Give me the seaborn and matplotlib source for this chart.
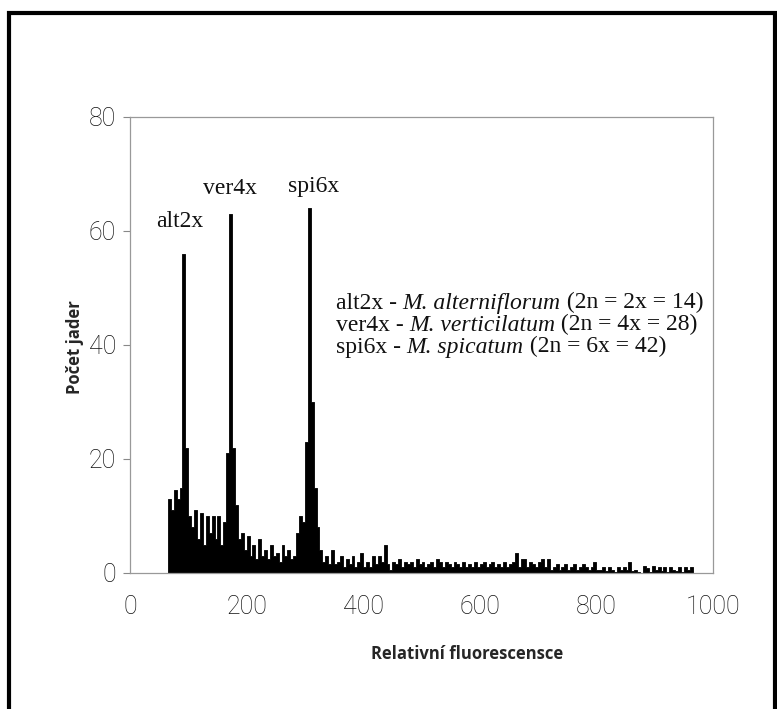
import numpy as np
import pandas as pd
import seaborn as sns
import matplotlib
matplotlib.use("Agg")
import matplotlib.pyplot as plt
from matplotlib.patches import Rectangle

# ---- data ----
bin_start = 65
bin_width = 5
counts = [
    13, 11, 14.5, 13, 15, 56, 22, 10, 8, 11,          # 65-110
    6, 10.5, 5, 10, 7, 10, 6, 10, 5, 9,               # 115-160
    21, 63, 22, 12, 6, 7, 4, 6.5, 3, 5,               # 165-210
    2.5, 6, 3, 4, 2.5, 5, 3, 3.5, 2, 5,               # 215-260
    3, 4, 2.5, 3, 7, 10, 9, 23, 64, 30,               # 265-310
    15, 8, 4, 2, 3, 1.5, 4, 1.5, 2, 3,                # 315-360
    1, 2.5, 1.5, 3, 1, 2, 3.5, 1, 2, 1,               # 365-410
    3, 1.5, 3, 2, 5, 1.5, 0.5, 2, 1.5, 2.5,           # 415-460
    1, 2, 1.5, 2, 1, 2.5, 1.5, 2, 1, 1.5,             # 465-510
    2, 1, 2.5, 2, 1, 2, 1.5, 1, 2, 1.5,               # 515-560
    1, 2, 1, 1.5, 1, 2, 1, 1.5, 2, 1,                 # 565-610
    1.5, 2, 1, 1.5, 1, 2, 1, 1.5, 2, 3.5,             # 615-660
    1, 2.5, 2.5, 1, 2, 1.5, 1, 2, 2.5, 1,             # 665-710
    2.5, 0.5, 1, 1.5, 0.5, 1, 1.5, 0.5, 1, 1.5,       # 715-760
    0.5, 1, 1.5, 1, 0.5, 1, 2, 0.5, 0.5, 1,           # 765-810
    0.3, 1, 0.5, 0.2, 1, 0.5, 1, 0.5, 2, 0.3,         # 815-860
    0.5, 0.2, 0, 1.3, 0.8, 0.2, 1.2, 0.5, 1, 0.3,     # 865-910
    1, 0.2, 1, 0.5, 0.3, 1, 0.2, 1, 0.5, 1,           # 915-960
]
edges = [bin_start + bin_width * i for i in range(len(counts) + 1)]
centers = [e + bin_width / 2 for e in edges[:-1]]
df = pd.DataFrame({"fluor": centers, "count": counts})

x_ticks = [0, 200, 400, 600, 800, 1000]
y_ticks = [0, 20, 40, 60, 80]
peak_labels = ["alt2x", "ver4x", "spi6x"]
peak_label_pos = [(86, 61.6), (171, 67.4), (315, 67.8)]
legend_lines = [
    ("alt2x - ", "M. alterniflorum", " (2n = 2x = 14)"),
    ("ver4x - ", "M. verticilatum", " (2n = 4x = 28)"),
    ("spi6x - ", "M. spicatum", " (2n = 6x = 42)"),
]

# ---- figure ----
sns.set_style("white")
plt.rcParams["font.family"] = ["DejaVu Sans"]
fig = plt.figure(figsize=(7.77, 7.09), dpi=100)
ax = fig.add_axes([130 / 777, 136 / 709, 583 / 777, 456 / 709])

sns.histplot(data=df, x="fluor", weights="count", bins=edges, element="step",
             fill=True, color="black", edgecolor="black", linewidth=0.6,
             alpha=1, ax=ax)

ax.set_xlim(0, 1000)
ax.set_ylim(0, 80)
ax.set_xticks(x_ticks)
ax.set_yticks(y_ticks)
for lab in ax.get_xticklabels() + ax.get_yticklabels():
    lab.set_family("Roboto")
    lab.set_fontweight("light")
    lab.set_fontsize(18)
    lab.set_color("#111111")
ax.tick_params(axis="x", length=0, pad=16)
ax.tick_params(axis="y", length=5, width=0.8, color="#888888", pad=5, left=True)

for s in ax.spines.values():
    s.set_color("#999999")
    s.set_linewidth(0.9)

ax.set_xlabel("Relativní fluorescensce", fontsize=12, fontweight="bold",
              family="Open Sans")
ax.set_ylabel("Počet jader", fontsize=12, fontweight="bold",
              family="Open Sans")
ax.xaxis.set_label_coords((467 - 130) / 583, (573 - 645) / 456)
ax.yaxis.set_label_coords((84 - 130) / 583, (573 - 347) / 456)

for t, (x, y) in zip(peak_labels, peak_label_pos):
    ax.text(x, y, t, family="Liberation Serif", fontsize=17, ha="center",
            va="center", color="#111111")

# legend-like text with italic species names
y0 = 46.4
for i, (a, b, c) in enumerate(legend_lines):
    y = y0 - i * 3.86
    t1 = ax.text(353, y, a, family="Liberation Serif", fontsize=17,
                 va="baseline", color="#111111")
    t2 = ax.annotate(b, xy=(1, 0), xycoords=t1, va="bottom",
                     family="Liberation Serif", style="italic", fontsize=17,
                     color="#111111")
    ax.annotate(c, xy=(1, 0), xycoords=t2, va="bottom",
                family="Liberation Serif", fontsize=17, color="#111111")

# outer frame
fig.patches.append(Rectangle((9 / 777, -0.05), 766 / 777, 1.05 - 13 / 709,
                             transform=fig.transFigure, fill=False,
                             edgecolor="black", linewidth=3))

fig.savefig("out.png", dpi=100)
